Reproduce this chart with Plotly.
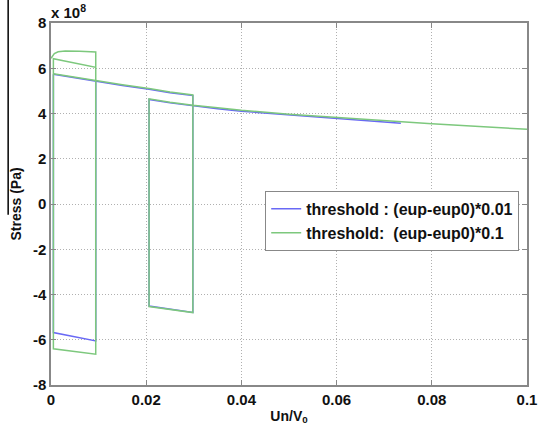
import plotly.graph_objects as go

# Stress values in units of 1e8 Pa
# Main curve (upper envelope, loading before second loop)
main1_x = [0.0005, 0.005, 0.0094, 0.015, 0.0206, 0.025, 0.0298]
main1_green = [5.76, 5.6, 5.45, 5.27, 5.1, 4.95, 4.82]
main1_blue = [5.73, 5.57, 5.42, 5.24, 5.07, 4.92, 4.79]

# Main curve after second loop
main2_x = [0.0206, 0.025, 0.0298, 0.035, 0.04, 0.05, 0.06, 0.07, 0.0735, 0.08, 0.09, 0.1]
main2_green = [4.65, 4.5, 4.36, 4.25, 4.14, 3.97, 3.82, 3.67, 3.62, 3.55, 3.42, 3.3]
main2_blue = [4.62, 4.47, 4.33, 4.21, 4.1, 3.93, 3.78, 3.62, 3.57]

# First loop (green: threshold 0.1)
loop1_green_x = [0, 0.0007, 0.0015, 0.003, 0.006, 0.0094, 0.0094, 0.0005, 0.0005, 0.0094, 0.0094]
loop1_green_y = [6.44, 6.65, 6.73, 6.76, 6.75, 6.72, -6.64, -6.4, 6.42, 6.04, 5.45]
# First loop (blue: threshold 0.01)
loop1_blue_x = [0.0094, 0.0094, 0.0005, 0.0005]
loop1_blue_y = [5.42, -6.05, -5.68, 5.73]

# Second loop
loop2_x = [0.0298, 0.0298, 0.0206, 0.0206]
loop2_green_y = [4.82, -4.8, -4.53, 4.65]
loop2_blue_y = [4.79, -4.79, -4.51, 4.62]

x_ticks = [0, 0.02, 0.04, 0.06, 0.08, 0.1]
x_ticklabels = ["0", "0.02", "0.04", "0.06", "0.08", "0.1"]
y_ticks = [-8, -6, -4, -2, 0, 2, 4, 6, 8]
y_ticklabels = ["-8", "-6", "-4", "-2", "0", "2", "4", "6", "8"]

series_names = ["threshold : (eup-eup0)*0.01", "threshold:  (eup-eup0)*0.1"]

blue_x = (loop1_blue_x + [None] + main1_x + loop2_x + main2_x[1:len(main2_blue)])
blue_y = (loop1_blue_y + [None] + main1_blue + loop2_blue_y + main2_blue[1:])
green_x = (loop1_green_x + [None] + main1_x + loop2_x + main2_x[1:])
green_y = (loop1_green_y + [None] + main1_green + loop2_green_y + main2_green[1:])

BLUE = "rgb(105,105,245)"
GREEN = "rgb(125,200,125)"
FONT = "Liberation Sans, Arial, sans-serif"

fig = go.Figure()
fig.add_trace(go.Scatter(x=blue_x, y=blue_y, mode="lines", name=series_names[0],
                         line=dict(color=BLUE, width=1.5)))
fig.add_trace(go.Scatter(x=green_x, y=green_y, mode="lines", name=series_names[1],
                         line=dict(color=GREEN, width=1.5)))

axis_font = dict(family=FONT, size=15, color="#111", weight="bold")
title_font = dict(size=14, family=FONT, color="#111", weight="bold")
common = dict(showgrid=True, gridcolor="#b0b0b0", griddash="1px,2px", gridwidth=1,
              showline=True, linecolor="#888", linewidth=1.5, mirror="ticks",
              ticks="inside", ticklen=5, tickcolor="#888", zeroline=False,
              tickfont=axis_font, automargin=False)
fig.update_layout(
    width=539, height=436,
    margin=dict(l=51, r=12, t=23, b=51),
    paper_bgcolor="white", plot_bgcolor="white",
    font=dict(family=FONT, color="#111"),
    showlegend=True,
    legend=dict(x=0.45, y=0.536, xanchor="left", yanchor="top",
                bgcolor="white", bordercolor="#888", borderwidth=1,
                font=dict(size=16, family=FONT, color="#111", weight="bold"),
                tracegroupgap=0, itemwidth=30),
    xaxis=dict(range=[0, 0.1], tickvals=x_ticks, ticktext=x_ticklabels,
               title=dict(text="Un/V<sub>0</sub>", standoff=4, font=title_font), **common),
    yaxis=dict(range=[-8, 8], tickvals=y_ticks, ticktext=y_ticklabels,
               title=dict(text="Stress (Pa)", standoff=8, font=title_font), **common),
)

fig.add_annotation(xref="paper", yref="paper", x=-0.004, y=1.0, xanchor="left", yanchor="bottom",
                   text="x 10<sup>8</sup>", showarrow=False,
                   font=dict(size=15, family=FONT, color="#111", weight="bold"))

# scan artifact: thin black vertical line at far left
fig.add_shape(type="line", xref="paper", yref="paper", x0=-0.09, x1=-0.09, y0=0.47, y1=1.07,
              line=dict(color="black", width=1.5))

fig.write_html("out.html", config={"displayModeBar": False},
               post_script="document.body.style.margin='0';document.body.style.overflow='hidden';")
